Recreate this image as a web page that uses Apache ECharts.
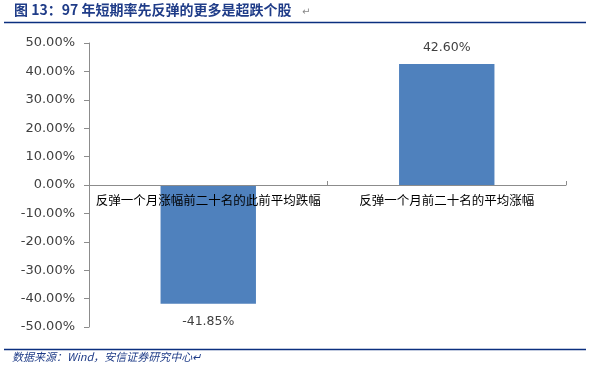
<!DOCTYPE html>
<html><head><meta charset="utf-8">
<script src="https://cdn.jsdelivr.net/npm/echarts@6/dist/echarts.min.js"></script>
<style>html,body{margin:0;padding:0;background:#fff}#c{width:589px;height:373px}</style>
</head><body><div id="c"></div>
<script>
const categories = ['反弹一个月涨幅前二十名的此前平均跌幅', '反弹一个月前二十名的平均涨幅'];
const values = [-41.85, 42.60];
const yTicks = { min: -50, max: 50, interval: 10 };
const titleText = '图 13：97 年短期率先反弹的更多是超跌个股';
const sourceText = '数据来源：Wind，安信证券研究中心';

const chart = echarts.init(document.getElementById('c'), null, { renderer: 'canvas' });
chart.setOption({
  animation: false,
  grid: { left: 89, right: 23, top: 43, bottom: 46, containLabel: false },
  xAxis: {
    type: 'category', data: categories, position: 'bottom', z: 5,
    axisLine: { onZero: true, lineStyle: { color: '#8c8c8c', width: 1 } },
    axisTick: { show: true, inside: true, length: 4, lineStyle: { color: '#8c8c8c' } },
    axisLabel: { color: '#000', fontSize: 12.5, fontFamily: 'Noto Sans CJK SC', margin: -133, interval: 0 },
    splitLine: { show: false }
  },
  yAxis: {
    type: 'value', min: yTicks.min, max: yTicks.max, interval: yTicks.interval,
    axisLine: { show: true, lineStyle: { color: '#8c8c8c' } },
    axisTick: { show: true, length: 5, lineStyle: { color: '#8c8c8c' } },
    axisLabel: { color: '#404040', fontSize: 13, fontFamily: 'DejaVu Sans', margin: 14,
      formatter: v => v.toFixed(2) + '%' },
    splitLine: { show: false }
  },
  series: [{
    type: 'bar', barWidth: '40%', z: 2,
    itemStyle: { color: '#4F81BD' },
    data: values.map(v => ({
      value: v,
      label: { position: v < 0 ? 'bottom' : 'top', distance: v < 0 ? 11 : 10 }
    })),
    label: { show: true, color: '#404040', fontSize: 12.5, fontFamily: 'DejaVu Sans',
      formatter: p => p.value.toFixed(2) + '%' }
  }],
  graphic: [
    { type: 'text', left: 14, top: 3, style: { text: titleText, fill: '#1F3C88', font: 'bold 14px "Noto Sans CJK SC"' } },
    { type: 'text', left: 302, top: 7, style: { text: '↵', fill: '#888', font: '10px "DejaVu Sans"' } },
    { type: 'line', shape: { x1: 4, y1: 22.5, x2: 586, y2: 22.5 }, style: { stroke: '#0B2F7F', lineWidth: 1.5 } },
    { type: 'line', shape: { x1: 4, y1: 349.5, x2: 586, y2: 349.5 }, style: { stroke: '#0B2F7F', lineWidth: 1.5 } },
    { type: 'text', left: 12, top: 351, style: { text: sourceText + '↵', fill: '#1F3C88', font: 'italic 11px "Noto Sans CJK SC"' } }
  ]
});
</script></body></html>
